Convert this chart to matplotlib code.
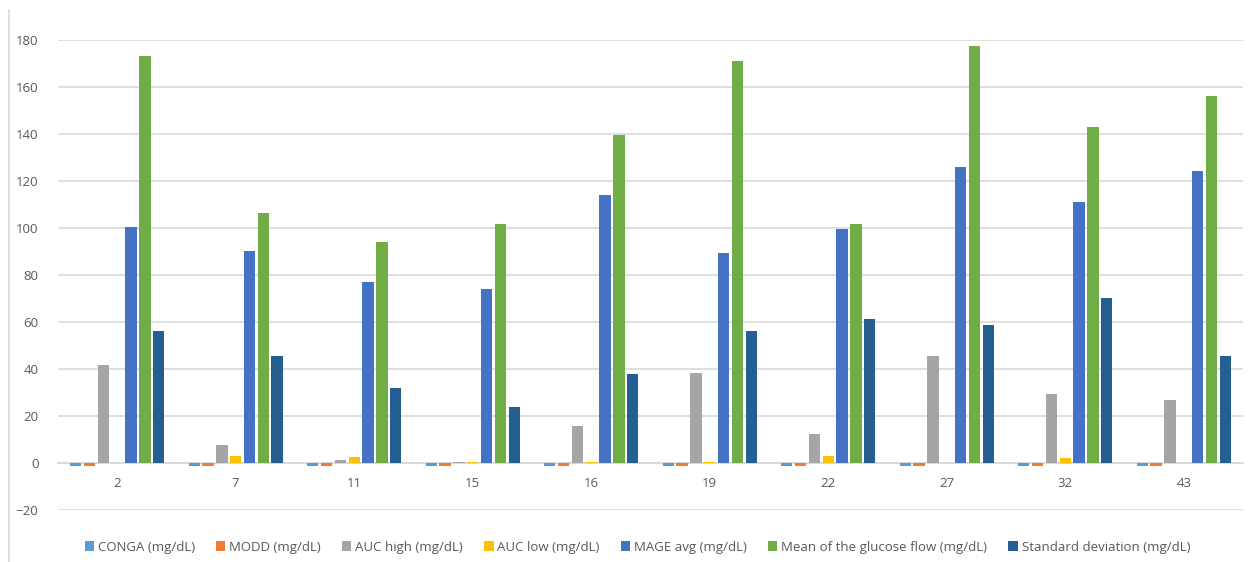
import matplotlib.pyplot as plt
import numpy as np
from matplotlib.lines import Line2D

# Patient ids on the x axis
patients = ["2", "7", "11", "15", "16", "19", "22", "27", "32", "43"]

# Glycemic variability indices per patient
conga = [-1, -1, -1, -1, -1, -1, -1, -1, -1, -1]
modd = [-1, -1, -1, -1, -1, -1, -1, -1, -1, -1]
auc_high = [42, 7.8, 1.5, 0.5, 15.8, 38.3, 12.5, 45.8, 29.3, 26.8]
auc_low = [0, 3, 2.7, 0.5, 0.5, 0.5, 3, 0, 2.3, 0]
mage_avg = [100.5, 90.5, 77, 74, 114, 89.5, 99.5, 126, 111, 124.5]
mean_glucose = [173.5, 106.5, 94, 102, 139.5, 171, 102, 177.5, 143, 156.5]
std_dev = [56.5, 45.5, 32, 24, 38, 56.5, 61.5, 59, 70.5, 45.5]

labels = ["CONGA (mg/dL)", "MODD (mg/dL)", "AUC high (mg/dL)", "AUC low (mg/dL)",
          "MAGE avg (mg/dL)", "Mean of the glucose flow (mg/dL)", "Standard deviation (mg/dL)"]
colors = ["#5B9BD5", "#ED7D31", "#A5A5A5", "#FFC000", "#4472C4", "#70AD47", "#255E91"]
series = [conga, modd, auc_high, auc_low, mage_avg, mean_glucose, std_dev]

plt.rcParams['font.family'] = ['Open Sans', 'DejaVu Sans']
text_color = "#595959"
grid_color = "#D9D9D9"

fig = plt.figure(figsize=(12.49, 5.62), dpi=100)
ax = fig.add_axes([0.0464, 0.092, 0.9488, 0.8363])

x = np.arange(len(patients))
slot = 0.1166
for i, (vals, lab, col) in enumerate(zip(series, labels, colors)):
    ax.bar(x + (i - 3) * slot, vals, width=slot * 0.82, color=col, label=lab,
           linewidth=0, zorder=3)

ax.set_xlim(-0.5, len(patients) - 0.5)
ax.set_ylim(-20, 180)
ax.set_yticks(range(-20, 181, 20))
ax.yaxis.grid(True, color=grid_color, linewidth=1.2, zorder=0)
ax.set_axisbelow(True)

for side in ["top", "right", "left"]:
    ax.spines[side].set_visible(False)
ax.spines["bottom"].set_position(("data", 0))
ax.spines["bottom"].set_color(grid_color)
ax.spines["bottom"].set_linewidth(1.2)
ax.spines["bottom"].set_zorder(2)

ax.set_xticks(x)
ax.set_xticklabels(patients)
ax.tick_params(axis="x", length=0, pad=10, labelsize=9.5, labelcolor=text_color)
ax.tick_params(axis="y", length=0, pad=14, labelsize=9.5, labelcolor=text_color)

ax.legend(loc="upper center", bbox_to_anchor=(0.489, -0.039), ncol=7, frameon=False,
          fontsize=9.5, labelcolor=text_color, handlelength=0.7, handleheight=0.7,
          handletextpad=0.3, columnspacing=1.6)

# chart area border on the left
fig.add_artist(Line2D([9 / 1249, 9 / 1249], [0, 1 - 10 / 562],
                      transform=fig.transFigure, color=grid_color, linewidth=1.2))

fig.savefig("out.png", dpi=100)
